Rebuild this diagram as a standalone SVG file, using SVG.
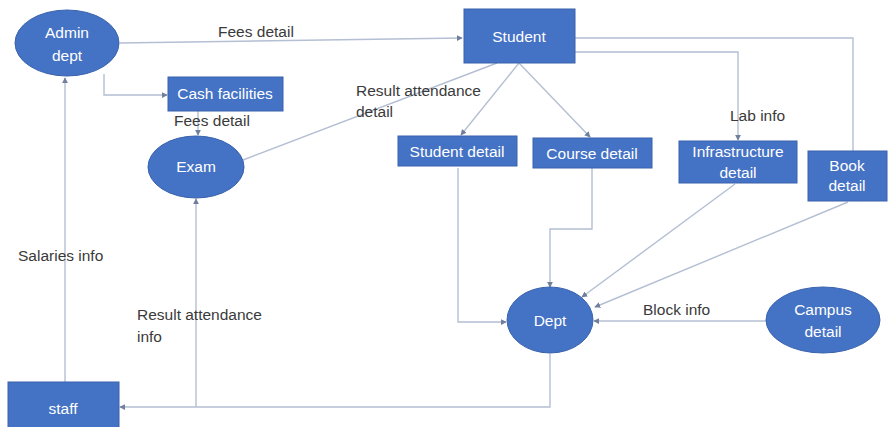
<svg xmlns="http://www.w3.org/2000/svg" width="888" height="427" viewBox="0 0 888 427">
<style>
.node{fill:#4472C4;stroke:#3A63AE;stroke-width:1}
.nt{fill:#fff;font-family:"Liberation Sans",Arial,sans-serif;font-size:15.5px;text-anchor:middle}
.lb{fill:#3a3a3a;font-family:"Liberation Sans",Arial,sans-serif;font-size:15.5px}
.c{fill:none;stroke:#B4BFD3;stroke-width:1.4}
</style>
<defs>
<marker id="a" viewBox="0 0 8 8" refX="7" refY="4" markerWidth="6" markerHeight="6" orient="auto" markerUnits="userSpaceOnUse">
<path d="M0,0 L8,4 L0,8 z" fill="#6F7F9C"/>
</marker>
</defs>
<rect width="888" height="427" fill="#fff"/>
<g id="connectors">
<path class="c" d="M120,43 L462,38" marker-end="url(#a)"/>
<path class="c" d="M104,74 L104,95 L167,95" marker-end="url(#a)"/>
<path class="c" d="M198,111 L198,135" marker-end="url(#a)"/>
<path class="c" d="M243,160 L497,63"/>
<path class="c" d="M519,63 L461,135" marker-end="url(#a)"/>
<path class="c" d="M519,63 L590,137" marker-end="url(#a)"/>
<path class="c" d="M575,52 L738,52 L738,140" marker-end="url(#a)"/>
<path class="c" d="M575,38 L853,38 L853,151"/>
<path class="c" d="M458,168 L458,322 L506,322" marker-end="url(#a)"/>
<path class="c" d="M592,168 L592,229 L550,229 L550,287" marker-end="url(#a)"/>
<path class="c" d="M735,184 L582,297" marker-end="url(#a)"/>
<path class="c" d="M848,202 L595,307" marker-end="url(#a)"/>
<path class="c" d="M767,321 L594,321" marker-end="url(#a)"/>
<path class="c" d="M550,354 L550,407 L120,407" marker-end="url(#a)"/>
<path class="c" d="M196,407 L196,199" marker-end="url(#a)"/>
<path class="c" d="M65,382 L65,78" marker-end="url(#a)"/>
</g>
<g id="labels">
<text class="lb" x="218" y="37">Fees detail</text>
<text class="lb" x="174" y="126">Fees detail</text>
<text class="lb" x="356" y="96">Result attendance</text>
<text class="lb" x="356" y="117">detail</text>
<text class="lb" x="730" y="121">Lab info</text>
<text class="lb" x="18" y="261">Salaries info</text>
<text class="lb" x="137" y="320">Result attendance</text>
<text class="lb" x="137" y="342">info</text>
<text class="lb" x="643" y="315">Block info</text>
</g>
<g id="admin"><ellipse class="node" cx="67" cy="43" rx="52" ry="33"/><text class="nt" x="67" y="38">Admin</text><text class="nt" x="67" y="61">dept</text></g>
<g id="student"><rect class="node" x="464" y="9" width="111" height="54"/><text class="nt" x="519" y="42">Student</text></g>
<g id="cash"><rect class="node" x="168" y="77" width="115" height="34"/><text class="nt" x="225" y="99">Cash facilities</text></g>
<g id="exam"><ellipse class="node" cx="196" cy="167" rx="48" ry="31"/><text class="nt" x="196" y="172">Exam</text></g>
<g id="studentdetail"><rect class="node" x="398" y="136" width="119" height="30"/><text class="nt" x="457" y="157">Student detail</text></g>
<g id="coursedetail"><rect class="node" x="533" y="138" width="119" height="30"/><text class="nt" x="592" y="159">Course detail</text></g>
<g id="infra"><rect class="node" x="679" y="141" width="118" height="42"/><text class="nt" x="738" y="157">Infrastructure</text><text class="nt" x="738" y="178">detail</text></g>
<g id="book"><rect class="node" x="808" y="151" width="79" height="50"/><text class="nt" x="847" y="171">Book</text><text class="nt" x="847" y="191">detail</text></g>
<g id="dept"><ellipse class="node" cx="550" cy="320" rx="43" ry="33"/><text class="nt" x="550" y="326">Dept</text></g>
<g id="campus"><ellipse class="node" cx="823" cy="320" rx="57" ry="33"/><text class="nt" x="823" y="315">Campus</text><text class="nt" x="823" y="337">detail</text></g>
<g id="staff"><rect class="node" x="8" y="382" width="111" height="50"/><text class="nt" x="63" y="414">staff</text></g>
</svg>
